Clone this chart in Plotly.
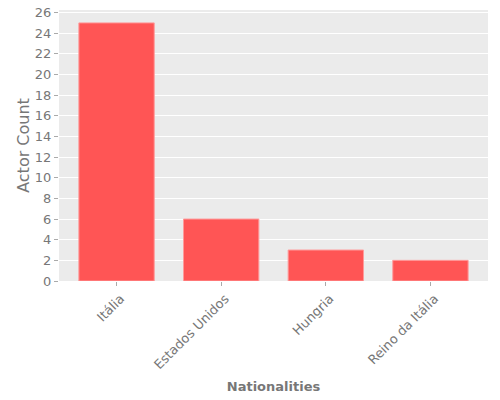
import plotly.graph_objects as go

# -- Daten ---------------------------------------------------------------------
nationalities = ["Itália", "Estados Unidos", "Hungria", "Reino da Itália"]
actor_counts = [25, 6, 3, 2]
y_ticks = list(range(0, 27, 2))

# -- Plot ----------------------------------------------------------------------
fig = go.Figure()
fig.add_trace(
    go.Bar(
        x=nationalities,
        y=actor_counts,
        width=0.72,
        marker=dict(color="#ff5555", line=dict(color="#ff9a9a", width=1)),
    )
)

fig.update_layout(
    width=500,
    height=400,
    margin=dict(l=59, r=12, t=10, b=119),
    paper_bgcolor="white",
    plot_bgcolor="#ebebeb",
    font=dict(family="DejaVu Sans", color="#777777", size=13),
    showlegend=False,
)

fig.update_xaxes(
    title=dict(text="<b>Nationalities</b>", font=dict(size=13, color="#777777"), standoff=10),
    range=[-0.55, 3.55],
    tickangle=-45,
    ticklabelshift=4,
    ticks="outside",
    ticklen=4,
    tickcolor="#aaaaaa",
    showgrid=False,
    showline=False,
    zeroline=False,
    automargin=False,
)
fig.update_yaxes(
    title=dict(text="Actor Count", font=dict(size=16, color="#777777"), standoff=1),
    range=[0, 26.25],
    tickvals=y_ticks,
    ticks="outside",
    ticklen=4,
    tickcolor="#aaaaaa",
    showgrid=True,
    gridcolor="white",
    gridwidth=1,
    zeroline=False,
    showline=False,
    automargin=False,
)

# Body-Rand der Seite entfernen, damit die Figur genau im Fenster sitzt
fig.write_html(
    "out.html",
    config={"displayModeBar": False},
    post_script="document.body.style.margin = '0';",
)
